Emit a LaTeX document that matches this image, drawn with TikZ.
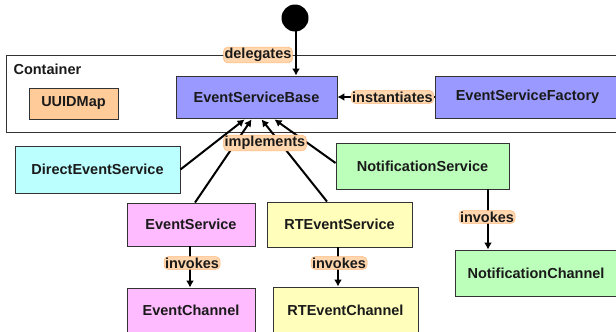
\documentclass[tikz,border=0pt]{standalone}
\usepackage{fontspec}
\setmainfont{Liberation Sans}
\usetikzlibrary{calc,arrows.meta}
\definecolor{cBase}{HTML}{9999FF}
\definecolor{cUuid}{HTML}{FFCC99}
\definecolor{cDirect}{HTML}{BBFFFF}
\definecolor{cEvent}{HTML}{FFBBFF}
\definecolor{cRT}{HTML}{FFFFBB}
\definecolor{cNotif}{HTML}{BBFFBB}
\definecolor{cGlow}{HTML}{FFD6AD}
\definecolor{cGlowEdge}{HTML}{FFB87A}
\definecolor{cText}{HTML}{1A1A1A}
\begin{document}
\begin{tikzpicture}[x=1pt,y=-1pt,
  every node/.style={font=\fontsize{14.5}{17}\selectfont\bfseries, text=cText},
  box/.style={draw=black!80, line width=0.9pt, minimum width=#1, inner sep=0pt},
  lab/.style={fill=cGlow, draw=cGlowEdge, line width=0.5pt, rounded corners=4pt, inner sep=1pt},
  conn/.style={line width=2pt, draw=black},
  arr/.style={conn, -{Latex[length=7pt,width=8pt]}}
]
\useasboundingbox (0,0) rectangle (616,332);
% container
\node[draw=black!80, line width=0.9pt, minimum width=614pt, minimum height=77pt, anchor=north west, inner sep=0pt] (container) at (6,55) {};
\node[anchor=west] (ctitle) at (10,69) {Container};
% start circle
\node[circle, fill=black, minimum size=27pt, inner sep=0pt] (start) at (295,18) {};
% boxes
\node[box=89pt, minimum height=31pt, fill=cUuid] (uuid) at (73.5,103.5) {UUIDMap};
\node[box=161pt, minimum height=42pt, fill=cBase] (base) at (256.5,97) {EventServiceBase};
\node[box=185pt, minimum height=42pt, fill=cBase] (factory) at (527.5,97) {EventServiceFactory};
\node[box=165pt, minimum height=47pt, fill=cDirect] (direct) at (97.5,169.5) {DirectEventService};
\node[box=128pt, minimum height=43pt, fill=cEvent] (es) at (191,224.5) {EventService};
\node[box=145pt, minimum height=45pt, fill=cRT] (rtes) at (339.5,224.5) {RTEventService};
\node[box=128pt, minimum height=44pt, fill=cEvent] (ec) at (191,310) {EventChannel};
\node[box=145pt, minimum height=46pt, fill=cRT] (rtec) at (345.5,310) {RTEventChannel};
\node[box=173pt, minimum height=46pt, fill=cNotif] (ns) at (422.5,166) {NotificationService};
\node[box=162pt, minimum height=46pt, fill=cNotif] (nc) at (536,273) {NotificationChannel};
% connectors
\draw[arr] ($(start.south)+(1,-2)$) -- ($(base.north)+(39.5,0)$);
\draw[arr] (factory.west) -- (base.east);
\draw[arr] (direct.east) -- ($(base.south west)+(69,1)$);
\draw[arr] ($(es.north)+(4,0)$) -- ($(base.south west)+(76,1)$);
\draw[arr] ($(rtes.north)+(-12.5,0)$) -- ($(base.south west)+(86,1)$);
\draw[arr] ($(ns.west)+(0,-3)$) -- ($(base.south west)+(99,1)$);
\draw[arr] ($(es.south)+(-1,0)$) -- ($(ec.north)+(-1,0)$);
\draw[arr] ($(rtes.south)+(-1.5,0)$) -- ($(rtec.north)+(-7.5,0)$);
\draw[arr] ($(ns.south)+(65.5,0)$) -- ($(nc.north)+(-48,0)$);
% labels
\node[lab] (ldeleg) at (258,55) {delegates};
\node[lab, anchor=east] (linst) at (434,97) {instantiates};
\node[lab] (limpl) at (265,143) {implements};
\node[lab] (linv1) at (192,263) {invokes};
\node[lab] (linv2) at (339,263) {invokes};
\node[lab] (linv3) at (487,217) {invokes};
\end{tikzpicture}
\end{document}
